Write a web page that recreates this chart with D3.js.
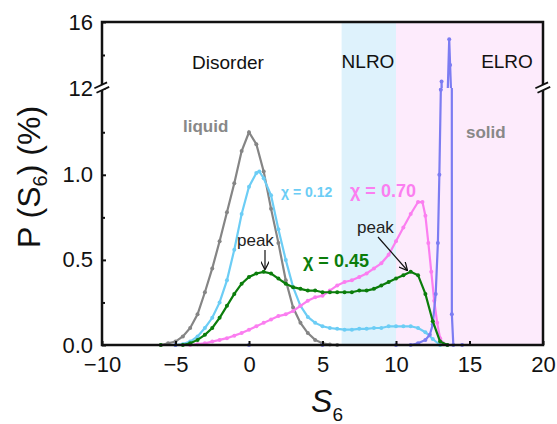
<!DOCTYPE html>
<html>
<head>
<meta charset="utf-8">
<script src="https://cdn.jsdelivr.net/npm/d3@7"></script>
<style>
  body { margin: 0; background: #fff; }
  text { font-family: Arial, "Liberation Sans", sans-serif; }
</style>
</head>
<body>
<svg width="557" height="424"></svg>
<script>
// S6 values and P(S6) in %
var liquidS = [-10, -6, -5.5, -5, -4.5, -4, -3.5, -3, -2.5, -2, -1.5, -1, -0.5, 0, 0.5, 1, 1.5, 2, 2.5, 3, 3.5, 4, 4.5, 5, 5.5, 6, 20];
var liquidP = [0, 0, 0.01, 0.02, 0.05, 0.1, 0.18, 0.31, 0.45, 0.61, 0.78, 0.95, 1.14, 1.25, 1.18, 1.02, 0.8, 0.6, 0.38, 0.22, 0.13, 0.07, 0.03, 0.01, 0.003, 0, 0];

var chi12S = [-10, -5, -4.5, -4, -3.5, -3, -2.5, -2, -1.5, -1, -0.5, 0, 0.5, 0.7, 1, 1.5, 2, 2.5, 3, 3.5, 4, 4.5, 5, 5.5, 6, 6.5, 7, 7.5, 8, 8.5, 9, 9.5, 10, 10.5, 11, 11.5, 12, 12.5, 13, 13.5, 20];
var chi12P = [0, 0, 0.005, 0.02, 0.05, 0.1, 0.16, 0.25, 0.38, 0.56, 0.77, 0.93, 1.01, 1.02, 0.98, 0.88, 0.68, 0.5, 0.34, 0.23, 0.165, 0.13, 0.11, 0.1, 0.095, 0.09, 0.09, 0.095, 0.095, 0.1, 0.1, 0.11, 0.11, 0.11, 0.11, 0.1, 0.075, 0.035, 0, 0, 0];

var chi70S = [-10, -4, -3.5, -3, -2.5, -2, -1.5, -1, -0.5, 0, 0.5, 1, 1.5, 2, 2.5, 3, 3.5, 4, 4.5, 5, 5.5, 6, 6.5, 7, 7.5, 8, 8.5, 9, 9.5, 10, 10.5, 11, 11.5, 11.8, 12, 12.2, 12.4, 12.6, 12.8, 13, 13.2, 13.5, 20];
var chi70P = [0, 0, 0.005, 0.01, 0.02, 0.03, 0.04, 0.055, 0.07, 0.09, 0.11, 0.13, 0.15, 0.17, 0.18, 0.2, 0.23, 0.26, 0.28, 0.29, 0.32, 0.35, 0.37, 0.38, 0.4, 0.42, 0.45, 0.48, 0.53, 0.61, 0.69, 0.77, 0.84, 0.84, 0.76, 0.6, 0.43, 0.26, 0.13, 0.04, 0.01, 0, 0];

var solidS = [-10, -5, 0, 5, 10, 11, 11.5, 12, 12.3, 12.5, 12.7, 12.85, 12.95, 13.05, 13.1, 13.3, 13.62, 13.68, 13.78, 13.8, 13.9, 14.5, 17, 20];
var solidP = [0, 0, 0, 0, 0, 0, 0.01, 0.03, 0.06, 0.12, 0.3, 0.6, 1.0, 1.5, 12.4, 5, 14.95, 13.4, 11, 0.18, 0, 0, 0, 0];

var chi45S = [-10, -6, -4.5, -4, -3.5, -3, -2.5, -2, -1.5, -1, -0.5, 0, 0.5, 1, 1.5, 2, 2.5, 3, 3.5, 4, 4.5, 5, 5.5, 6, 6.5, 7, 7.5, 8, 8.5, 9, 9.5, 10, 10.5, 11, 11.5, 12, 12.5, 13, 13.5, 15, 17, 20];
var chi45P = [0, 0, 0, 0.01, 0.03, 0.06, 0.1, 0.16, 0.23, 0.3, 0.36, 0.4, 0.42, 0.43, 0.42, 0.39, 0.36, 0.34, 0.33, 0.32, 0.32, 0.31, 0.31, 0.31, 0.31, 0.31, 0.32, 0.32, 0.33, 0.35, 0.37, 0.39, 0.41, 0.43, 0.41, 0.3, 0.14, 0.02, 0, 0, 0, 0];

var xTicks = [-10, -5, 0, 5, 10, 15, 20];
var yLowTicks = [0, 0.5, 1.0];
var yLowMinor = [0.25, 0.75, 1.25];
var yHighTicks = [12, 16];
var yHighMinor = [14];

var series = [
  { s: liquidS, p: liquidP, color: "#858585" },
  { s: chi12S, p: chi12P, color: "#6ccdf5" },
  { s: chi70S, p: chi70P, color: "#fb7ef0" },
  { s: solidS, p: solidP, color: "#7c7cf2" },
  { s: chi45S, p: chi45P, color: "#0b7d0b" }
];

var svg = d3.select("svg");
var mLeft = 102, mRight = 543, mTop = 22, mBottom = 345, breakY = 88;

var x = d3.scaleLinear().domain([-10, 20]).range([mLeft, mRight]);
var yLow = d3.scaleLinear().domain([0, 1.51]).range([mBottom, breakY]);
var yHigh = d3.scaleLinear().domain([12, 16]).range([breakY, mTop]);

var defs = svg.append("defs");
defs.append("clipPath").attr("id", "clipLow").append("rect")
    .attr("x", mLeft).attr("y", breakY).attr("width", mRight - mLeft).attr("height", mBottom - breakY + 2);
defs.append("clipPath").attr("id", "clipHigh").append("rect")
    .attr("x", mLeft).attr("y", mTop).attr("width", mRight - mLeft).attr("height", breakY - mTop);

// phase regions
svg.append("rect").attr("x", x(6.3)).attr("y", mTop).attr("width", x(10) - x(6.3))
    .attr("height", mBottom - mTop).attr("fill", "#def2fc");
svg.append("rect").attr("x", x(10)).attr("y", mTop).attr("width", x(20) - x(10))
    .attr("height", mBottom - mTop).attr("fill", "#fdebfc");

// curves, drawn in both halves of the broken axis
[["clipLow", yLow], ["clipHigh", yHigh]].forEach(function(part) {
    var y = part[1];
    var g = svg.append("g").attr("clip-path", "url(#" + part[0] + ")");
    series.forEach(function(d) {
        var pts = d.s.map(function(v, i) { return [v, d.p[i]]; });
        var line = d3.line()
            .x(function(q) { return x(q[0]); })
            .y(function(q) { return y(q[1]); });
        g.append("path").datum(pts)
            .attr("d", line)
            .attr("fill", "none")
            .attr("stroke", d.color)
            .attr("stroke-width", 2.2);
        g.selectAll(null).data(pts.filter(function(q) { return q[1] > 0 || (q[0] > -7 && q[0] < 15); }))
            .enter().append("circle")
            .attr("cx", function(q) { return x(q[0]); })
            .attr("cy", function(q) { return y(q[1]); })
            .attr("r", 2)
            .attr("fill", d.color);
    });
});

// axes
var xAxis = d3.axisBottom(x).tickValues(xTicks).tickSize(-4).tickPadding(11)
    .tickFormat(d3.format("d"));
svg.append("g").attr("transform", "translate(0," + mBottom + ")").call(xAxis);

svg.append("g").attr("transform", "translate(" + mLeft + ",0)")
    .call(d3.axisLeft(yLow).tickValues(yLowTicks).tickSize(-4).tickPadding(9).tickFormat(d3.format(".1f")));
svg.append("g").attr("transform", "translate(" + mLeft + ",0)")
    .call(d3.axisLeft(yLow).tickValues(yLowMinor).tickSize(-3).tickFormat(""));
svg.append("g").attr("transform", "translate(" + mLeft + ",0)")
    .call(d3.axisLeft(yHigh).tickValues(yHighTicks).tickSize(-4).tickPadding(9).tickFormat(d3.format("d")));
svg.append("g").attr("transform", "translate(" + mLeft + ",0)")
    .call(d3.axisLeft(yHigh).tickValues(yHighMinor).tickSize(-3).tickFormat(""));

svg.selectAll(".domain").remove();
svg.selectAll(".tick line").attr("stroke", "#111").attr("stroke-width", 2);
svg.selectAll(".tick text").attr("font-size", 22).attr("fill", "#111")
    .attr("font-family", "Arial, 'Liberation Sans', sans-serif");

// frame
svg.append("rect").attr("x", mLeft).attr("y", mTop).attr("width", mRight - mLeft).attr("height", mBottom - mTop)
    .attr("fill", "none").attr("stroke", "#111").attr("stroke-width", 2.5);

// break marks
[mLeft, mRight].forEach(function(bx) {
    svg.append("rect").attr("x", bx - 6).attr("y", breakY - 3).attr("width", 12).attr("height", 5)
        .attr("fill", "#fff").attr("transform", "rotate(-25," + bx + "," + breakY + ")");
    [-3, 2].forEach(function(off) {
        svg.append("line")
            .attr("x1", bx - 7).attr("x2", bx + 7)
            .attr("y1", breakY + off).attr("y2", breakY + off)
            .attr("stroke", "#111").attr("stroke-width", 1.8)
            .attr("transform", "rotate(-25," + bx + "," + breakY + ")");
    });
});

// axis titles
var yt = svg.append("text").attr("transform", "translate(40,177) rotate(-90)")
    .attr("text-anchor", "middle").attr("font-size", 32).attr("fill", "#111");
yt.append("tspan").text("P (S");
yt.append("tspan").attr("font-size", 20).attr("dy", 7).text("6");
yt.append("tspan").attr("dy", -7).text(") (%)");

var xt = svg.append("text").attr("x", 327).attr("y", 412).attr("text-anchor", "middle")
    .attr("font-size", 32).attr("fill", "#111");
xt.append("tspan").attr("font-style", "italic").text("S");
xt.append("tspan").attr("font-size", 19).attr("dy", 9).text("6");

// labels
function label(txt, lx, ly, size, color, weight, anchor) {
    return svg.append("text").attr("x", lx).attr("y", ly).attr("font-size", size)
        .attr("fill", color).attr("font-weight", weight || "normal")
        .attr("text-anchor", anchor || "start").text(txt);
}
label("Disorder", 228, 69, 19, "#111", "normal", "middle");
label("NLRO", 368, 68, 19, "#111", "normal", "middle");
label("ELRO", 507, 68, 19, "#111", "normal", "middle");
label("liquid", 183, 132, 17, "#888", "bold");
label("solid", 466, 138, 17, "#888", "bold");
label("\u03c7 = 0.12", 281, 197, 14, "#6ccdf5", "bold");
label("\u03c7 = 0.70", 350, 197, 18, "#fb7ef0", "bold");
label("\u03c7 = 0.45", 303, 267, 18, "#0b7d0b", "bold");
label("peak", 237, 246, 17, "#222");
label("peak", 357, 233, 17, "#222");

// arrows
defs.append("marker").attr("id", "arr").attr("viewBox", "0 0 10 10").attr("refX", 9).attr("refY", 5)
    .attr("markerWidth", 7).attr("markerHeight", 7).attr("orient", "auto")
    .append("path").attr("d", "M0,0 L10,5 L0,10").attr("fill", "none").attr("stroke", "#111").attr("stroke-width", 1.5);
[[265, 250, 265, 269], [378, 237, 407, 270]].forEach(function(a) {
    svg.append("line").attr("x1", a[0]).attr("y1", a[1]).attr("x2", a[2]).attr("y2", a[3])
        .attr("stroke", "#111").attr("stroke-width", 1.2).attr("marker-end", "url(#arr)");
});
</script>
</body>
</html>
